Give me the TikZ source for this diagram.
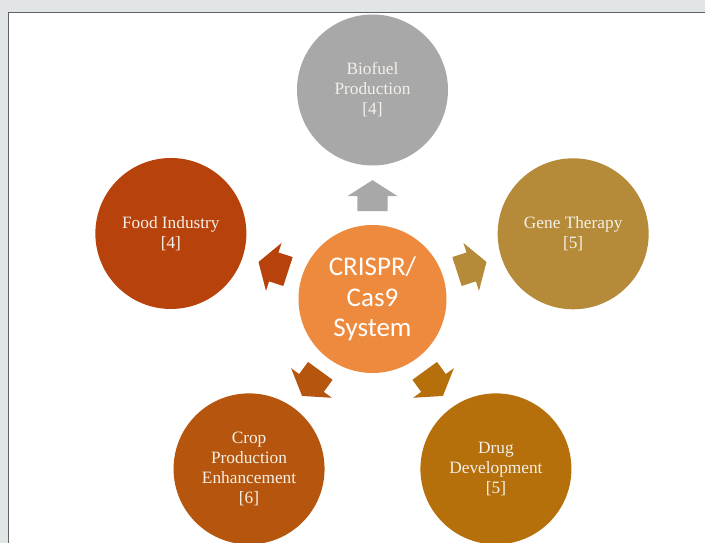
\documentclass[tikz,border=0pt]{standalone}
\usepackage{fontspec}
\setmainfont{Liberation Serif}
\newfontfamily\corefont{Carlito}
\usepackage{tikz}
\usetikzlibrary{shapes.arrows}
\definecolor{framegray}{HTML}{E2E5E6}
\definecolor{framedark}{HTML}{5F6264}
\definecolor{coreorange}{HTML}{EE8A3D}
\definecolor{biogray}{HTML}{A8A8A8}
\definecolor{genegold}{HTML}{B58B3A}
\definecolor{druggold}{HTML}{B5700C}
\definecolor{cropbrown}{HTML}{B6560E}
\definecolor{foodred}{HTML}{B8420C}
\definecolor{topictext}{HTML}{F4F0E8}

\begin{document}
\begin{tikzpicture}[
  x=1pt, y=1pt,
  hub/.style={circle, fill=coreorange, minimum size=148pt, inner sep=0pt, align=center, text=white, font=\corefont\fontsize{27}{30.5}\selectfont},
  topic/.style={circle, minimum size=151pt, inner sep=0pt, align=center, text=topictext, font=\fontsize{17.3}{20}\selectfont},
  pointer/.style={single arrow, draw=none, minimum height=31pt, inner xsep=0pt, inner ysep=15pt, single arrow head extend=10pt, single arrow tip angle=115, rotate=#1}
]
  % frame
  \useasboundingbox (-372.5,-244) rectangle (332.5,299);
  \fill[framegray] (-372.5,-244) rectangle (332.5,299);
  \filldraw[fill=white, draw=framedark, line width=1.2pt] (-364,-260) rectangle (345,286.5);

  \node[hub] (core) at (0,0) {CRISPR/\\Cas9\\System};

  \node[topic, fill=biogray] (biofuel) at (90:209) {Biofuel\\Production\\{[4]}};
  \node[topic, fill=genegold] (gene) at (18:211) {Gene Therapy\\{[5]}};
  \node[topic, fill=druggold] (drug) at (-54:210) {Drug\\Development\\{[5]}};
  \node[topic, fill=cropbrown] (crop) at (-126:210) {Crop\\Production\\Enhancement\\{[6]}};
  \node[topic, fill=foodred] (food) at (162:212) {Food Industry\\{[4]}};

  \node[pointer=90, fill=biogray] (to-biofuel) at (90:98.5) {};
  \node[pointer=18, fill=genegold] (to-gene) at (18:99.5) {};
  \node[pointer=-54, fill=druggold] (to-drug) at (-54:99.5) {};
  \node[pointer=-126, fill=cropbrown] (to-crop) at (-126:99.5) {};
  \node[pointer=162, fill=foodred] (to-food) at (162:99.5) {};
\end{tikzpicture}
\end{document}
